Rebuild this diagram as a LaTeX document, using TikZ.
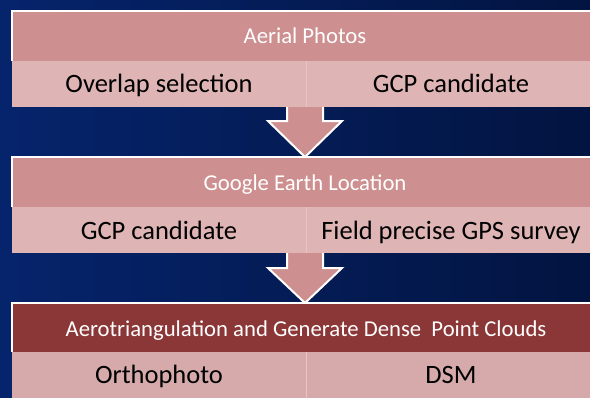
\documentclass[tikz,border=0pt]{standalone}
\usepackage{fontspec}
\setmainfont{Carlito}
\definecolor{bgL}{RGB}{6,36,108}
\definecolor{bgR}{RGB}{2,20,64}
\definecolor{hdrPink}{RGB}{205,143,143}
\definecolor{rowPink}{RGB}{223,180,180}
\definecolor{hdrDark}{RGB}{139,55,55}
\definecolor{rowDark}{RGB}{214,170,170}
\definecolor{divLine}{RGB}{232,196,196}
\tikzset{
  hdr/.style={anchor=north west, inner sep=0pt, minimum width=584pt, fill=hdrPink},
  cell/.style={anchor=north west, inner sep=0pt, minimum width=294pt,
    minimum height=46pt, fill=rowPink},
  cellR/.style={cell, minimum width=290pt},
  hdrtext/.style={anchor=base, inner sep=0pt, text=white, font=\fontsize{22.7}{26}\selectfont},
  celltext/.style={anchor=base, inner sep=0pt, text=black, font=\fontsize{26.5}{30}\selectfont},
  rim/.style={draw=white, line width=2pt},
  blockarrow/.style={fill=hdrPink},
  arrowrim/.style={draw=white, line width=2pt, line join=miter}
}
\begin{document}
\begin{tikzpicture}[x=1pt,y=-1pt]
\useasboundingbox (0,0) rectangle (590,397);
\clip (0,0) rectangle (590,397);
% background
\shade[left color=bgL, right color=bgR] (0,0) rectangle (590,397);

% ---- first block ----
\node[hdr, minimum height=50pt] (h1) at (12,11) {};
\node[hdrtext] (h1t) at (305,43) {Aerial Photos};
\node[cell] (a1) at (12,61) {};
\node[cellR] (b1) at (306,61) {};
\node[celltext] (a1t) at (159,92) {Overlap selection};
\node[celltext] (b1t) at (451,92) {GCP candidate};
\draw[divLine, line width=0.8pt] (a1.north east) -- (a1.south east);
\draw[rim] (h1.south west) -- (h1.north west) -- (h1.north east);

% ---- arrow 1 ----
\coordinate (p1) at (287,107);
\coordinate (p2) at (287,121);
\coordinate (p3) at (268,121);
\coordinate (p4) at (305,157);
\coordinate (p5) at (342,121);
\coordinate (p6) at (323,121);
\coordinate (p7) at (323,107);
\fill[blockarrow] (p1) -- (p2) -- (p3) -- (p4) -- (p5) -- (p6) -- (p7) -- cycle;
\draw[arrowrim] (p1) -- (p2) -- (p3) -- (p4) -- (p5) -- (p6) -- (p7);

% ---- second block ----
\node[hdr, minimum height=50pt] (h2) at (12,157) {};
\node[hdrtext] (h2t) at (305,190) {Google Earth Location};
\node[cell] (a2) at (12,207) {};
\node[cellR] (b2) at (306,207) {};
\node[celltext] (a2t) at (159,239) {GCP candidate};
\node[celltext] (b2t) at (451,239) {Field precise GPS survey};
\draw[divLine, line width=0.8pt] (a2.north east) -- (a2.south east);
\draw[rim] (h2.south west) -- (h2.north west) -- (h2.north east);

% ---- arrow 2 ----
\coordinate (q1) at (287,253);
\coordinate (q2) at (287,268);
\coordinate (q3) at (268,268);
\coordinate (q4) at (305,303);
\coordinate (q5) at (342,268);
\coordinate (q6) at (323,268);
\coordinate (q7) at (323,253);
\fill[blockarrow] (q1) -- (q2) -- (q3) -- (q4) -- (q5) -- (q6) -- (q7) -- cycle;
\draw[arrowrim] (q1) -- (q2) -- (q3) -- (q4) -- (q5) -- (q6) -- (q7);

% ---- third block ----
\node[hdr, fill=hdrDark, minimum height=49pt] (h3) at (12,303) {};
\node[hdrtext] (h3t) at (306,336) {Aerotriangulation and Generate Dense\ \ Point Clouds};
\node[cell, fill=rowDark, minimum height=48pt] (a3) at (12,352) {};
\node[cellR, fill=rowDark, minimum height=48pt] (b3) at (306,352) {};
\node[celltext] (a3t) at (159,383) {Orthophoto};
\node[celltext] (b3t) at (451,383) {DSM};
\draw[divLine, line width=0.8pt] (a3.north east) -- (a3.south east);
\draw[rim] (h3.south west) -- (h3.north west) -- (h3.north east);
\end{tikzpicture}
\end{document}
